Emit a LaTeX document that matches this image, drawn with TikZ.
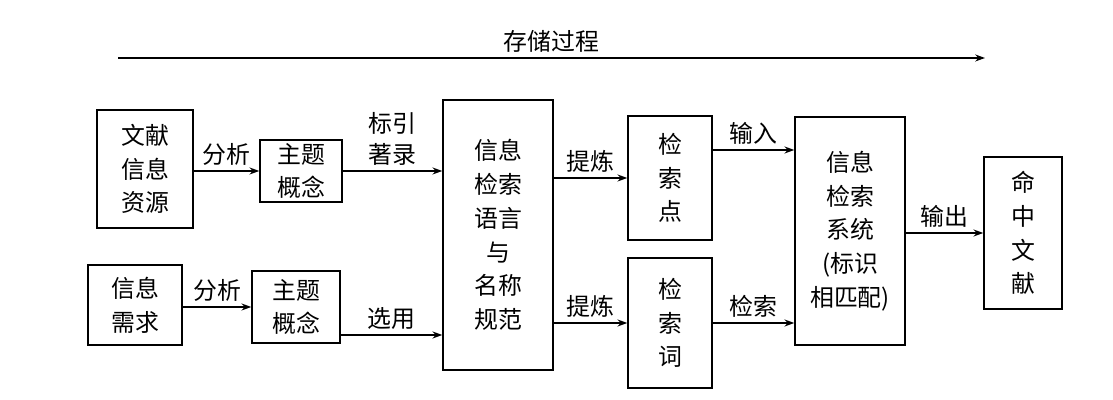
\documentclass[tikz,border=0pt]{standalone}
\usepackage{fontspec}
\setmainfont{Noto Sans CJK SC}
\usetikzlibrary{arrows.meta}
\tikzset{box/.style={draw=black,line width=1pt,align=center,inner sep=2pt,font=\fontsize{17}{24}\selectfont},
	arr/.style={-{Stealth[length=7pt,width=5pt]},line width=0.9pt},
	lbl/.style={above,font=\fontsize{17}{22}\selectfont,align=center}}
\begin{document}
\begin{tikzpicture}
			\useasboundingbox (0,0) rectangle (27.825,10);
			\node[box,minimum width=2.4cm,minimum height=2.95cm] (wx) at (3.625,5.775) {文献\\信息\\资源};
			\node[box,minimum width=2.05cm,minimum height=1.55cm] (zt1) at (7.525,5.725) {主题\\概念};
			\node[box,minimum width=2.75cm,minimum height=6.75cm] (yy) at (12.45,4.125) {信息\\检索\\语言\\与\\名称\\规范};
			\node[box,minimum width=2.1cm,minimum height=3.1cm] (jsd) at (16.75,5.55) {检\\索\\点};
			\node[box,minimum width=2.1cm,minimum height=3.25cm] (jsc) at (16.75,1.925) {检\\索\\词};
			\node[box,minimum width=2.75cm,minimum height=5.7cm] (xt) at (21.25,4.225) {信息\\检索\\系统\\(标识\\相匹配)};
			\node[box,minimum width=1.95cm,minimum height=3.8cm] (mz) at (25.575,4.175) {命\\中\\文\\献};
			\node[box,minimum width=2.35cm,minimum height=2.0cm] (xq) at (3.375,2.375) {信息\\需求};
			\node[box,minimum width=2.2cm,minimum height=1.8cm] (zt2) at (7.4,2.325) {主题\\概念};
			\coordinate (s) at (2.95,8.55);
			\coordinate (e) at (24.625,8.55);
		
			\draw[arr] (s) -- node[lbl] {存储过程} (e);
			\draw[arr] (wx.east |- zt1.west) -- node[lbl] {分析} (zt1.west);
			\draw[arr] (zt1.east) -- node[lbl] {标引\\著录} (zt1.east -| yy.west);
			\draw[arr] (yy.east |- jsd.west) -- node[lbl] {提炼} (jsd.west);
			\draw[arr] ([yshift=0.7cm]jsd.east) -- node[lbl] {输入} ([yshift=0.7cm]jsd.east -| xt.west);
			\draw[arr] (xt.east |- mz.west) -- node[lbl] {输出} (mz.west);
			\draw[arr] (xq.east |- zt2.west) -- node[lbl] {分析} (zt2.west);
			\draw[arr] ([yshift=-0.7cm]zt2.east) -- node[lbl] {选用} ([yshift=-0.7cm]zt2.east -| yy.west);
			\draw[arr] (yy.east |- jsc.west) -- node[lbl] {提炼} (jsc.west);
			\draw[arr] (jsc.east) -- node[lbl] {检索} (jsc.east -| xt.west);
\end{tikzpicture}
\end{document}
